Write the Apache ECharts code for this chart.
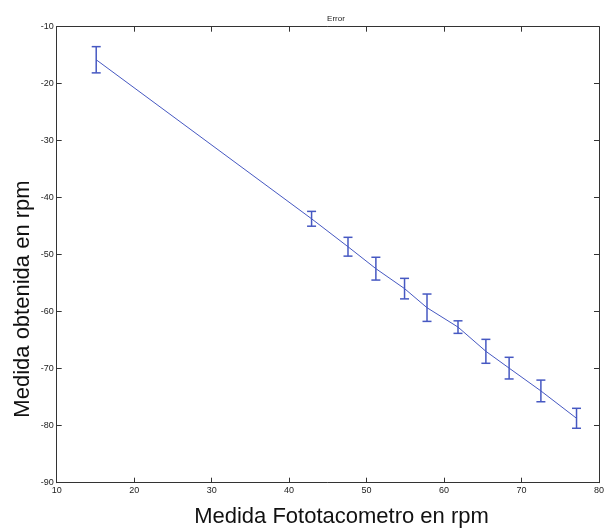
<!DOCTYPE html>
<html>
<head>
<meta charset="utf-8">
<script src="https://cdn.jsdelivr.net/npm/echarts@6/dist/echarts.min.js"></script>
<style>
  html, body { margin: 0; padding: 0; background: #fff; overflow: hidden; }
  #chart { width: 607px; height: 530px; }
</style>
</head>
<body>
<div id="chart"></div>
<script>
// Tachometer reading vs. measured value, with error bars
const fototacometro = [15.1, 42.9, 47.6, 51.2, 54.9, 57.8, 61.8, 65.4, 68.4, 72.5, 77.1];
const medida = [-15.8, -43.7, -48.6, -52.45, -55.95, -59.3, -62.7, -66.95, -69.9, -73.9, -78.7];
const errorRpm = [2.3, 1.3, 1.65, 2.0, 1.8, 2.4, 1.1, 2.1, 1.9, 1.9, 1.75];

const xTicks = [10, 20, 30, 40, 50, 60, 70, 80];
const yTicks = [-90, -80, -70, -60, -50, -40, -30, -20, -10];

const titleText = 'Error';
const xName = 'Medida Fototacometro en rpm';
const yName = 'Medida obtenida en rpm';

const lineData = fototacometro.map((x, i) => [x, medida[i]]);
const errData = fototacometro.map((x, i) => [x, medida[i] - errorRpm[i], medida[i] + errorRpm[i]]);

const blue = '#4658c2';
const axisColor = '#333';
const labelFont = { fontFamily: 'Liberation Sans', fontSize: 9, color: '#222' };
const nameFont = { fontFamily: 'Liberation Sans', fontSize: 22, fill: '#111' };

const boxAxis = (pos, ticks) => ({
  type: 'value', position: pos, min: ticks[0], max: ticks[ticks.length - 1], interval: 10,
  axisLine: { show: true, onZero: false, lineStyle: { color: axisColor, width: 1 } },
  axisTick: { show: true, inside: true, length: 5, lineStyle: { color: axisColor } },
  axisLabel: { show: false }, splitLine: { show: false }
});

const chart = echarts.init(document.getElementById('chart'));
chart.setOption({
  animation: false,
  backgroundColor: '#fff',
  title: {
    text: titleText,
    left: 331, top: 10, textAlign: 'center',
    textStyle: { fontFamily: 'Liberation Sans', fontSize: 8, fontWeight: 'normal', color: '#222' }
  },
  grid: { left: 56.7, right: 2, top: 26.7, bottom: 47.3, containLabel: false },
  xAxis: [
    Object.assign(boxAxis('bottom', xTicks), { axisLabel: { ...labelFont, margin: 3 } }),
    boxAxis('top', xTicks)
  ],
  yAxis: [
    Object.assign(boxAxis('left', yTicks), { axisLabel: { ...labelFont, margin: 3 } }),
    boxAxis('right', yTicks)
  ],
  graphic: [{
    type: 'text',
    x: 341.5, y: 517,
    style: Object.assign({ text: xName, textAlign: 'center', textVerticalAlign: 'middle' }, nameFont)
  }, {
    type: 'text',
    x: 22.5, y: 299,
    rotation: Math.PI / 2,
    style: Object.assign({ text: yName, textAlign: 'center', textVerticalAlign: 'middle' }, nameFont)
  }],
  series: [{
    type: 'line',
    data: lineData,
    showSymbol: false,
    lineStyle: { color: blue, width: 1 },
    z: 2
  }, {
    type: 'custom',
    data: errData,
    renderItem: function (params, api) {
      const x = api.value(0);
      const lo = api.coord([x, api.value(1)]);
      const hi = api.coord([x, api.value(2)]);
      const hw = 4.5;
      const style = { stroke: blue, lineWidth: 1.5, fill: null };
      return {
        type: 'group',
        children: [
          { type: 'line', shape: { x1: lo[0], y1: lo[1], x2: hi[0], y2: hi[1] }, style },
          { type: 'line', shape: { x1: lo[0] - hw, y1: lo[1], x2: lo[0] + hw, y2: lo[1] }, style },
          { type: 'line', shape: { x1: hi[0] - hw, y1: hi[1], x2: hi[0] + hw, y2: hi[1] }, style }
        ]
      };
    },
    z: 3
  }]
});
</script>
</body>
</html>
